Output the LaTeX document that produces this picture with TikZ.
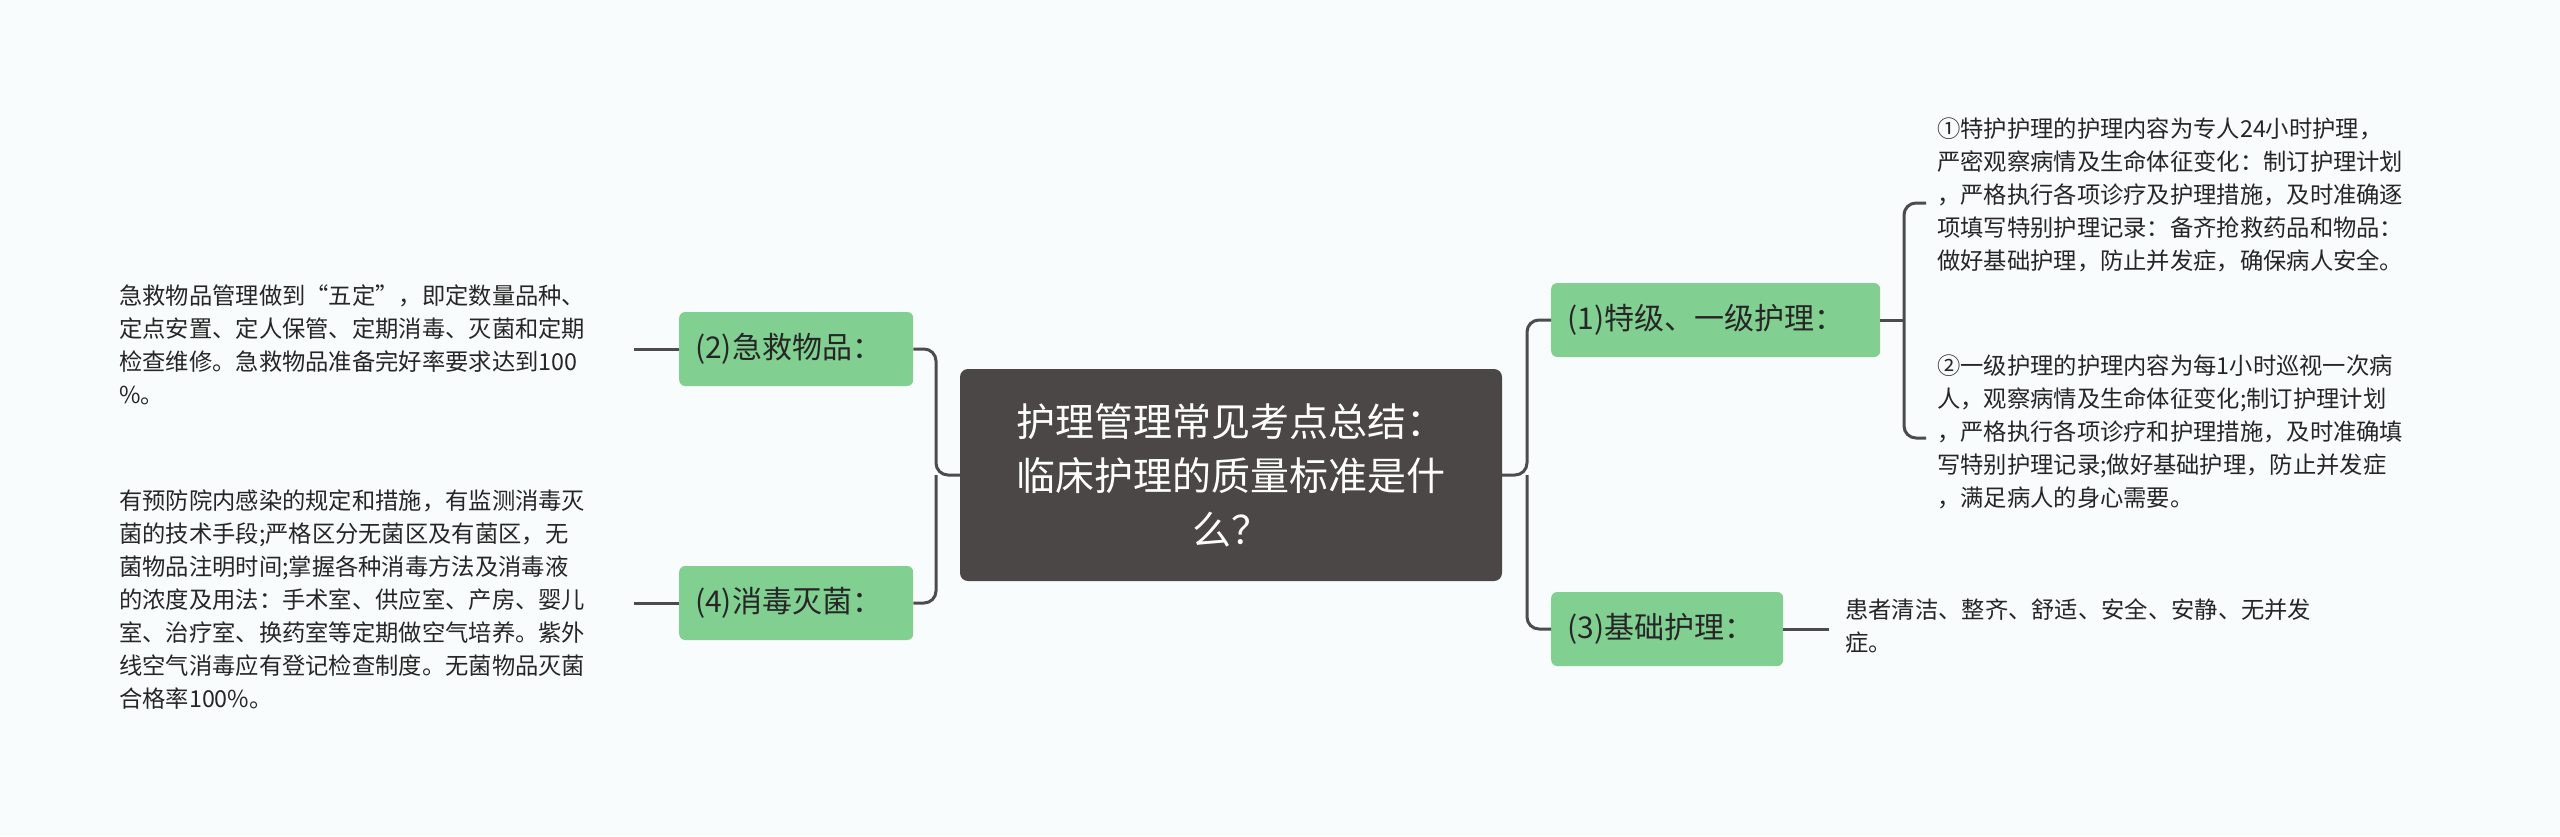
\documentclass[tikz,border=0pt]{standalone}
\usepackage{fontspec}
\setmainfont{Noto Sans CJK SC}
\begin{document}
\begin{tikzpicture}[x=1pt,y=-1pt,
  lnk/.style={draw=black!70,line width=3pt,rounded corners=12pt},
  mid/.style={fill=midg,rounded corners=6pt,minimum height=74pt,font=\fontsize{30}{36}\selectfont,text=black!85,inner xsep=16pt,anchor=west,text width=#1,align=left},
  leaf/.style={font=\fontsize{23.3}{33}\selectfont,text=black!85,align=left,anchor=north west,inner sep=0pt}]
\definecolor{midg}{HTML}{82CF92}
\definecolor{rootg}{HTML}{4B4747}
\fill[fill={rgb,255:red,248;green,252;blue,252}] (0,0) rectangle (2560,836);
\useasboundingbox (0,0) rectangle (2560,836);
\node[fill=rootg,rounded corners=8pt,minimum width=542pt,minimum height=212pt,text=white,align=center,font=\fontsize{39}{54}\selectfont] (root) at (1231,475) {护理管理常见考点总结：\\临床护理的质量标准是什\\么？};
\node[mid=202pt] (a) at (679,349) {(2)急救物品：};
\node[mid=202pt] (b) at (679,603) {(4)消毒灭菌：};
\node[mid=297pt] (c) at (1551,320) {(1)特级、一级护理：};
\node[mid=200pt] (d) at (1551,629) {(3)基础护理：};
\node[leaf] (ta) at (119,285) {急救物品管理做到“五定”，即定数量品种、\\定点安置、定人保管、定期消毒、灭菌和定期\\检查维修。急救物品准备完好率要求达到100\\\%。};
\node[leaf] (tb) at (119,490) {有预防院内感染的规定和措施，有监测消毒灭\\菌的技术手段;严格区分无菌区及有菌区，无\\菌物品注明时间;掌握各种消毒方法及消毒液\\的浓度及用法：手术室、供应室、产房、婴儿\\室、治疗室、换药室等定期做空气培养。紫外\\线空气消毒应有登记检查制度。无菌物品灭菌\\合格率100\%。};
\node[leaf] (tc1) at (1937,118) {①特护护理的护理内容为专人24小时护理，\\严密观察病情及生命体征变化：制订护理计划\\，严格执行各项诊疗及护理措施，及时准确逐\\项填写特别护理记录：备齐抢救药品和物品：\\做好基础护理，防止并发症，确保病人安全。};
\node[leaf] (tc2) at (1937,355) {②一级护理的护理内容为每1小时巡视一次病\\人，观察病情及生命体征变化;制订护理计划\\，严格执行各项诊疗和护理措施，及时准确填\\写特别护理记录;做好基础护理，防止并发症\\，满足病人的身心需要。};
\node[leaf] (td) at (1845,598) {患者清洁、整齐、舒适、安全、安静、无并发\\症。};
\coordinate (sl) at (936,475);
\coordinate (sr) at (1527,475);
\draw[lnk] (root.west) -- (sl) |- (a.east);
\draw[lnk] (sl) |- (b.east);
\draw[lnk] (root.east) -- (sr) |- (c.west);
\draw[lnk] (sr) |- (d.west);
\draw[lnk] (a.west) -- (634,349);
\draw[lnk] (b.west) -- (634,603);
\coordinate (bk) at (1904,320);
\draw[lnk] (c.east) -- (bk);
\draw[lnk] (1926,203) -- (1904,203) -- (1904,438) -- (1926,438);
\draw[lnk] (d.east) -- (1829,629);
\end{tikzpicture}
\end{document}
